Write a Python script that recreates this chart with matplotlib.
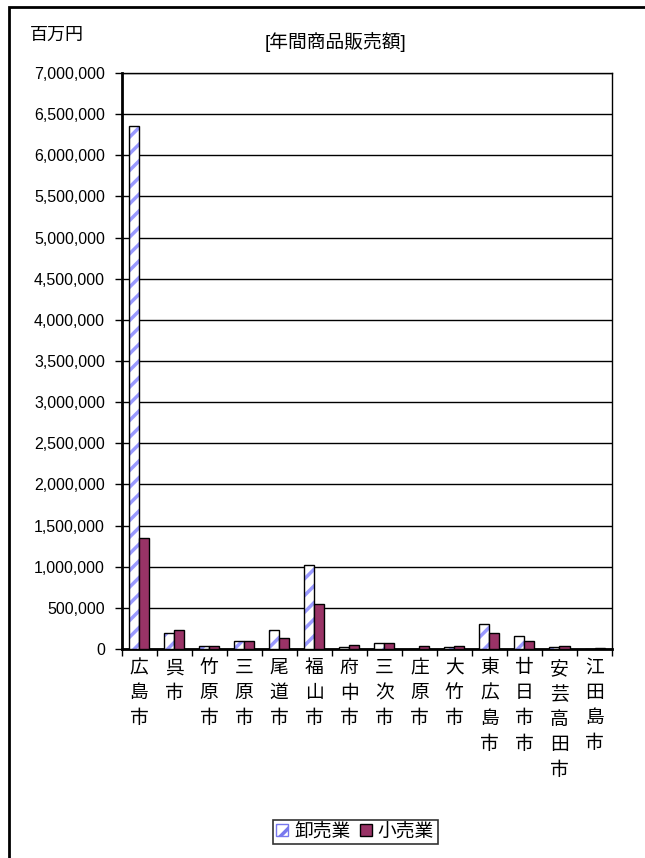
import numpy as np
import matplotlib.pyplot as plt
from matplotlib.patches import Rectangle, Patch

plt.rcParams['font.family'] = ['Liberation Sans', 'Noto Sans CJK JP']
plt.rcParams['hatch.linewidth'] = 2.5

#%% data
cities = ['広島市', '呉市', '竹原市', '三原市', '尾道市', '福山市', '府中市',
          '三次市', '庄原市', '大竹市', '東広島市', '廿日市市', '安芸高田市', '江田島市']
wholesale = [6350000, 193000, 33000, 102000, 225000, 1020000, 29000,
             74000, 3000, 20000, 299000, 152000, 20000, 2000]
retail = [1350000, 225000, 33000, 102000, 135000, 541000, 49000,
          70000, 33000, 33000, 193000, 102000, 33000, 12000]

#%% plot
fig = plt.figure(figsize=(6.45, 8.58), dpi=100)
ax = fig.add_axes([0.1884, 0.2436, 0.7605, 0.6713])

x = np.arange(len(cities))
w = 0.286

# wholesale: white with blue stripes, black outline
ax.bar(x - w / 2, wholesale, w, color='white', edgecolor='#9999ff',
       hatch='//', linewidth=0, zorder=3)
ax.bar(x - w / 2, wholesale, w, color='none', edgecolor='black',
       linewidth=1, zorder=4)
ax.bar(x + w / 2, retail, w, color='#993366', edgecolor='black',
       linewidth=1, zorder=4)

ax.set_xlim(-0.5, len(cities) - 0.5)
ax.set_ylim(0, 7000000)
ax.set_yticks(np.arange(0, 7000001, 500000))
ax.set_yticklabels([f'{v:,}' for v in range(0, 7000001, 500000)], fontsize=11.5)
ax.yaxis.grid(True, color='black', linewidth=1)
ax.set_axisbelow(True)

ax.set_xticks(x)
ax.set_xticklabels(['\n'.join(c) for c in cities], fontsize=13.5,
                   linespacing=1.62, va='top')
ax.set_xticks(np.arange(-0.5, len(cities)), minor=True)
ax.tick_params(axis='x', which='major', length=0, pad=8)
ax.tick_params(axis='x', which='minor', length=5, width=1, direction='out')
ax.tick_params(axis='y', length=5, width=1, direction='out', pad=7)

for s in ['left', 'bottom']:
    ax.spines[s].set_linewidth(2)
for s in ['right', 'top']:
    ax.spines[s].set_linewidth(1)

fig.text(30 / 645, 1 - 35 / 858, '百万円', fontsize=13, va='center', ha='left')
fig.text(336 / 645, 1 - 42 / 858, '[年間商品販売額]', fontsize=13.5,
         va='center', ha='center')

handles = [Patch(facecolor='white', edgecolor='#7777ee', hatch='//'),
           Patch(facecolor='#993366', edgecolor='black')]
leg = fig.legend(handles, ['卸売業', '小売業'], loc='center',
                 bbox_to_anchor=(355 / 645, 1 - 832 / 858), ncol=2,
                 fontsize=13.5, frameon=True, fancybox=False,
                 handlelength=0.65, handleheight=0.65, handletextpad=0.3,
                 columnspacing=0.5, borderpad=0.2, borderaxespad=0)
leg.get_frame().set_edgecolor('black')
leg.get_frame().set_linewidth(1.2)

# outer chart frame
fig.patches.append(Rectangle((9 / 645, -0.1), 1.2, 1.1 - 7 / 858,
                             transform=fig.transFigure, fill=False,
                             edgecolor='black', linewidth=2))

fig.savefig('out.png', dpi=100)
